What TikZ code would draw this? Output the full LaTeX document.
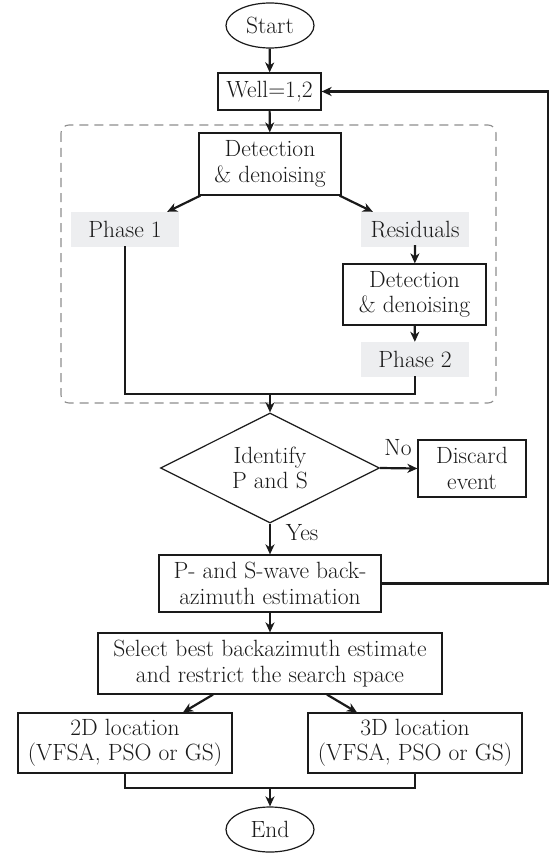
\documentclass[tikz,border=0pt]{standalone}
\usetikzlibrary{shapes.geometric,arrows.meta,calc}
\definecolor{ink}{HTML}{1A1A1A}
\definecolor{phasegray}{HTML}{EDEEF0}
\definecolor{dashgray}{HTML}{8E8E8E}
\begin{document}
\begin{tikzpicture}[x=1pt,y=-1pt,
  every node/.style={font=\fontsize{23.5}{25.5}\selectfont, text=ink, align=center, inner sep=0pt},
  term/.style={ellipse, draw=ink, line width=1.2pt, minimum width=88pt, minimum height=45pt},
  box/.style={rectangle, draw=ink, line width=1.2pt},
  phase/.style={rectangle, fill=phasegray, minimum width=108pt, minimum height=35pt},
  decide/.style={diamond, draw=ink, line width=1.2pt, shape aspect=2, minimum width=219pt, minimum height=110pt},
  arr/.style={draw=ink, line width=2.2pt, -{Stealth[length=10pt,width=9pt,inset=3pt]}},
  ln/.style={draw=ink, line width=2.2pt}
]
\useasboundingbox (0,0) rectangle (552,853);
\fill[white] (0,0) rectangle (552,853);

% dashed group
\draw[dashgray, line width=1.1pt, dash pattern=on 9pt off 6pt, rounded corners=8pt] (61,125) rectangle (496,403);

\node[term] (start) at (270,25.5) {Start};
\node[box, minimum width=103pt, minimum height=37pt] (well) at (269.5,91.5) {Well=1,2};
\node[box, minimum width=142pt, minimum height=62pt] (det1) at (270,164) {Detection\\\& denoising};
\node[phase] (ph1) at (125,229.5) {Phase 1};
\node[phase] (res) at (415,229.5) {Residuals};
\node[box, minimum width=143pt, minimum height=61pt] (det2) at (414.5,294.5) {Detection\\\& denoising};
\node[phase] (ph2) at (415,359.5) {Phase 2};
\coordinate (merge) at (270,394);
\node[decide] (ident) at (270,468) {Identify\\P and S};
\node[box, minimum width=108pt, minimum height=57pt] (disc) at (472,468.5) {Discard\\event};
\node[box, minimum width=222pt, minimum height=57pt] (ps) at (270,583.5) {P- and S-wave back-\\azimuth estimation};
\coordinate (loop) at (548,583.5);
\node[box, minimum width=344pt, minimum height=61pt] (sel) at (270,663.5) {Select best backazimuth estimate\\and restrict the search space};
\node[box, minimum width=214pt, minimum height=60pt] (loc2) at (125,743) {2D location\\(VFSA, PSO or GS)};
\node[box, minimum width=214pt, minimum height=60pt] (loc3) at (415,743) {3D location\\(VFSA, PSO or GS)};
\coordinate (join) at (270,788);
\node[term] (end) at (270,829.5) {End};

\draw[arr] (start) -- (well);
\draw[arr] (well) -- (det1);
\draw[arr] ([xshift=2pt]det1.south west) -- ([xshift=-12pt]ph1.north east);
\draw[arr] ([xshift=-2pt]det1.south east) -- ([xshift=12pt]res.north west);
\draw[arr] ([yshift=2pt]res.south) -- (det2);
\draw[arr] (det2) -- (ph2);
\draw[ln] ([yshift=1pt]ph1.south) |- (merge) -| ([yshift=1pt]ph2.south);
\draw[arr] (merge) -- (ident.north);
\draw[arr] (ident.east) -- (disc.west);
\node (no) at (398,448) {No};
\draw[arr] (ident.south) -- (ps.north);
\node (yes) at (302,533) {Yes};
\draw[arr] (ps.east) -- (loop) |- (well.east);
\draw[arr] (ps) -- (sel);
\draw[arr] ([xshift=-57pt]sel.south) -- ([xshift=58pt]loc2.north);
\draw[arr] ([xshift=57pt]sel.south) -- ([xshift=-58pt]loc3.north);
\draw[ln] (loc2.south) |- (join) -| (loc3.south);
\draw[arr] (join) -- (end.north);
\end{tikzpicture}
\end{document}
